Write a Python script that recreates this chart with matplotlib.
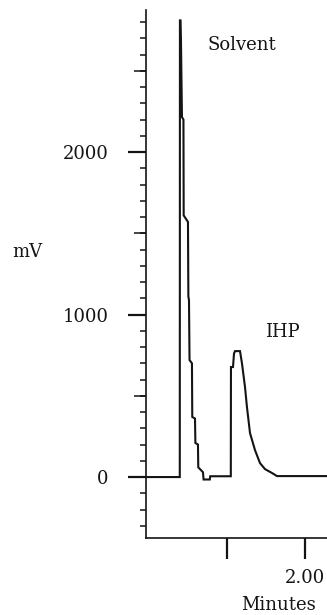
import matplotlib
matplotlib.use("Agg")
import matplotlib.pyplot as plt
from matplotlib.ticker import FixedLocator, MultipleLocator, NullFormatter, FixedFormatter

# ---- data (time in minutes, signal in mV) ----
time_min = [-0.05, 0.395, 0.397, 0.405, 0.410, 0.423, 0.442, 0.445, 0.500, 0.505,
            0.513, 0.520, 0.551, 0.555, 0.590, 0.595, 0.628, 0.632, 0.692, 0.700,
            0.780, 0.785, 1.049, 1.051, 1.077, 1.090, 1.103, 1.167, 1.192, 1.231,
            1.256, 1.295, 1.359, 1.423, 1.487, 1.577, 1.641, 2.40]
signal_mv = [0, 0, 2810, 2810, 2690, 2215, 2200, 1610, 1570, 1110,
             1090, 720, 700, 370, 360, 210, 200, 60, 30, -15,
             -15, 5, 5, 677, 677, 760, 775, 775, 700, 554,
             431, 271, 166, 86, 49, 25, 6, 6]

y_major = [0, 1000, 2000]
y_major_labels = ["0", "1000", "2000"]
y_mid = [500, 1500, 2500]
x_ticks = [1.0, 2.0]
x_tick_labels = ["", "2.00"]
annotations = [("Solvent", 0.744, 2658), ("IHP", 1.487, 892)]

W, H = 327, 615
fig = plt.figure(figsize=(W / 100, H / 100), dpi=100)
ax = fig.add_axes([146 / W, (615 - 538) / H, (W - 146) / W, (538 - 10) / H])

serif = ["DejaVu Serif"]
fs = 13
ink = "#141414"

ax.plot(time_min, signal_mv, color=ink, lw=1.5, solid_joinstyle="miter")

ax.set_xlim(-0.038, 2.282)
ax.set_ylim(-375, 2874)

for s in ["top", "right"]:
    ax.spines[s].set_visible(False)
for s in ["left", "bottom"]:
    ax.spines[s].set_linewidth(1.2)
    ax.spines[s].set_color(ink)

ax.yaxis.set_major_locator(FixedLocator(y_major))
ax.yaxis.set_major_formatter(FixedFormatter(y_major_labels))
ax.yaxis.set_minor_locator(MultipleLocator(100))
ax.tick_params(axis="y", which="major", length=13, width=1.6, direction="out",
               pad=14, labelsize=fs, colors=ink)
ax.tick_params(axis="y", which="minor", length=4, width=1.1, direction="out", colors=ink)

sec = ax.secondary_yaxis("left")
sec.spines["left"].set_visible(False)
sec.yaxis.set_major_locator(FixedLocator(y_mid))
sec.yaxis.set_major_formatter(NullFormatter())
sec.yaxis.set_minor_locator(FixedLocator([]))
sec.tick_params(axis="y", which="major", length=9, width=1.1, direction="out", colors=ink)

ax.xaxis.set_major_locator(FixedLocator(x_ticks))
ax.xaxis.set_major_formatter(FixedFormatter(x_tick_labels))
ax.tick_params(axis="x", which="major", length=15, width=1.6, direction="out",
               pad=7, labelsize=fs, colors=ink)

for lab in ax.get_xticklabels() + ax.get_yticklabels():
    lab.set_family(serif)

for txt, tx, ty in annotations:
    ax.text(tx, ty, txt, ha="left", va="center", fontsize=fs, family=serif, color=ink)

fig.text(12 / W, 1 - 252 / H, "mV", ha="left", va="center", fontsize=fs, family=serif, color=ink)
fig.text(279 / W, 1 - 605 / H, "Minutes", ha="center", va="center", fontsize=fs, family=serif, color=ink)

fig.savefig("out.png", dpi=100)
